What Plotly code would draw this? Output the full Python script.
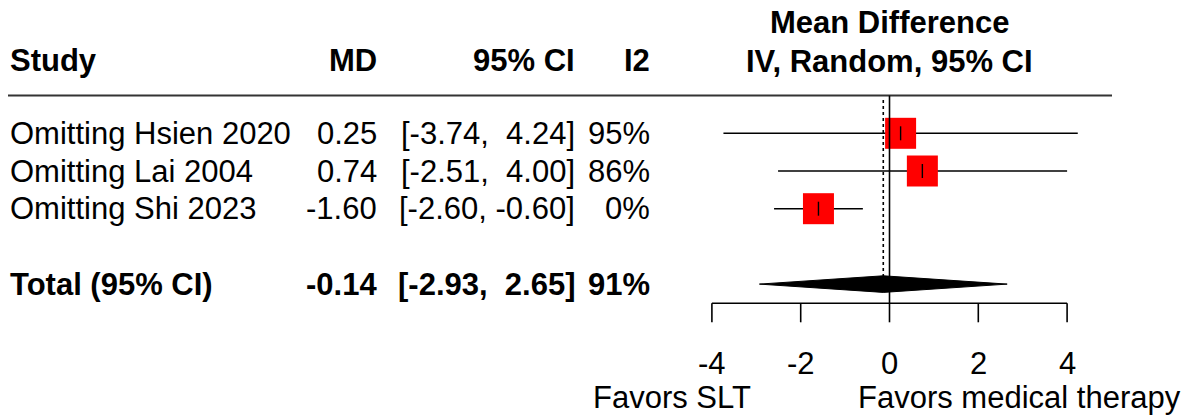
import plotly.graph_objects as go

# ---------------- data ----------------
studies = ["Omitting Hsien 2020", "Omitting Lai 2004", "Omitting Shi 2023"]
md = [0.25, 0.74, -1.60]
ci_low = [-3.74, -2.51, -2.60]
ci_high = [4.24, 4.00, -0.60]
i2 = ["95%", "86%", "0%"]

total_label = "Total (95% CI)"
total_md = -0.14
total_low = -2.93
total_high = 2.65
total_i2 = "91%"

tick_vals = [-4, -2, 0, 2, 4]
tick_text = ["-4", "-2", "0", "2", "4"]

col_headers = ["Study", "MD", "95% CI", "I2"]
title_lines = ["Mean Difference", "IV, Random, 95% CI"]
label_left = "Favors SLT"
label_right = "Favors medical therapy"

# ---------------- layout geometry ----------------
W, H = 1195, 415
X0_PX, PX_PER_UNIT = 889.5, 44.4      # x=0 pixel, pixels per unit
Y0_PX, PX_PER_ROW = 95.6, 37.7        # row 0 pixel, pixels per row

def px2x(px):
    return (px - X0_PX) / PX_PER_UNIT

def py2k(py):
    return (py - Y0_PX) / PX_PER_ROW

FONT = "Liberation Sans, Arial, sans-serif"
FS = 31
rows = [1, 2, 3]
total_row = 5

fig = go.Figure()

# CI lines
xs, ys = [], []
for lo, hi, r in zip(ci_low, ci_high, rows):
    xs += [lo, hi, None]
    ys += [r, r, None]
fig.add_trace(go.Scatter(x=xs, y=ys, mode="lines",
                         line=dict(color="black", width=1.6),
                         hoverinfo="skip", showlegend=False))

# squares
fig.add_trace(go.Scatter(x=md, y=rows, mode="markers",
                         marker=dict(symbol="square", size=31, color="red",
                                     line=dict(width=0)),
                         showlegend=False))
# point estimate ticks
fig.add_trace(go.Scatter(x=md, y=rows, mode="markers",
                         marker=dict(symbol="line-ns", size=10,
                                     line=dict(color="black", width=1.4)),
                         showlegend=False))

# diamond
dh = 8.3 / PX_PER_ROW
fig.add_trace(go.Scatter(
    x=[total_low, total_md, total_high, total_md, total_low],
    y=[total_row, total_row - dh, total_row, total_row + dh, total_row],
    mode="lines", fill="toself", fillcolor="black",
    line=dict(color="black", width=1), showlegend=False))

shapes = []
# header rule
shapes.append(dict(type="line", xref="x", yref="y",
                   x0=px2x(8), x1=px2x(1112), y0=0, y1=0,
                   line=dict(color="#333333", width=2)))
# no-effect line
shapes.append(dict(type="line", xref="x", yref="y", x0=0, x1=0,
                   y0=0, y1=py2k(303.3), line=dict(color="black", width=1.6)))
# overall effect dotted line
shapes.append(dict(type="line", xref="x", yref="y", x0=total_md, x1=total_md,
                   y0=py2k(100), y1=py2k(277),
                   line=dict(color="black", width=1.6, dash="dot")))
# axis line and ticks
ax_y = py2k(303.3)
tk_y = py2k(322.3)
shapes.append(dict(type="line", xref="x", yref="y", x0=tick_vals[0],
                   x1=tick_vals[-1], y0=ax_y, y1=ax_y,
                   line=dict(color="black", width=1.6)))
for tv in tick_vals:
    shapes.append(dict(type="line", xref="x", yref="y", x0=tv, x1=tv,
                       y0=ax_y, y1=tk_y, line=dict(color="black", width=1.6)))

ann = []
def txt(x, y, s, anchor, bold=False, xref="paper"):
    ann.append(dict(x=x, y=y, xref=xref, yref="y", text=f"<b>{s}</b>" if bold else s,
                    showarrow=False, xanchor=anchor, yanchor="middle",
                    font=dict(family=FONT, size=FS, color="black")))

def pxp(px):
    return px / W

hdr_k = py2k(60)
# column headers
txt(pxp(8), hdr_k, col_headers[0], "left", True)
txt(pxp(379), hdr_k, col_headers[1], "right", True)
txt(pxp(577), hdr_k, col_headers[2], "right", True)
txt(pxp(652), hdr_k, col_headers[3], "right", True)
txt(0, py2k(22), title_lines[0], "center", True, xref="x")
txt(0, py2k(61), title_lines[1], "center", True, xref="x")

def fmt(v):
    return f"{v:.2f}"

def fmt_ci(lo, hi):
    a = fmt(lo)
    b = fmt(hi)
    b = (" " + b) if not b.startswith("-") else b
    return f"[{a}, {b}]"

for s, m, lo, hi, p, r in zip(studies, md, ci_low, ci_high, i2, rows):
    txt(pxp(8), r, s, "left")
    txt(pxp(379), r, fmt(m), "right")
    txt(pxp(577), r, fmt_ci(lo, hi).replace(" ", "&nbsp;"), "right")
    txt(pxp(652), r, p, "right")

txt(pxp(8), total_row, total_label, "left", True)
txt(pxp(379), total_row, fmt(total_md), "right", True)
txt(pxp(577), total_row, fmt_ci(total_low, total_high).replace(" ", "&nbsp;"), "right", True)
txt(pxp(652), total_row, total_i2, "right", True)

# tick labels
for tv, tt in zip(tick_vals, tick_text):
    txt(tv, py2k(363), tt, "center", xref="x")

txt(pxp(753), py2k(397), label_left, "right")
txt(pxp(856), py2k(397), label_right, "left")

fig.update_layout(
    width=W, height=H,
    margin=dict(l=0, r=0, t=0, b=0),
    paper_bgcolor="white", plot_bgcolor="white",
    xaxis=dict(range=[px2x(0), px2x(W)], visible=False, fixedrange=True),
    yaxis=dict(range=[py2k(H), py2k(0)], visible=False, fixedrange=True),
    shapes=shapes, annotations=ann, showlegend=False,
    font=dict(family=FONT),
)

fig.write_html("out.html")
